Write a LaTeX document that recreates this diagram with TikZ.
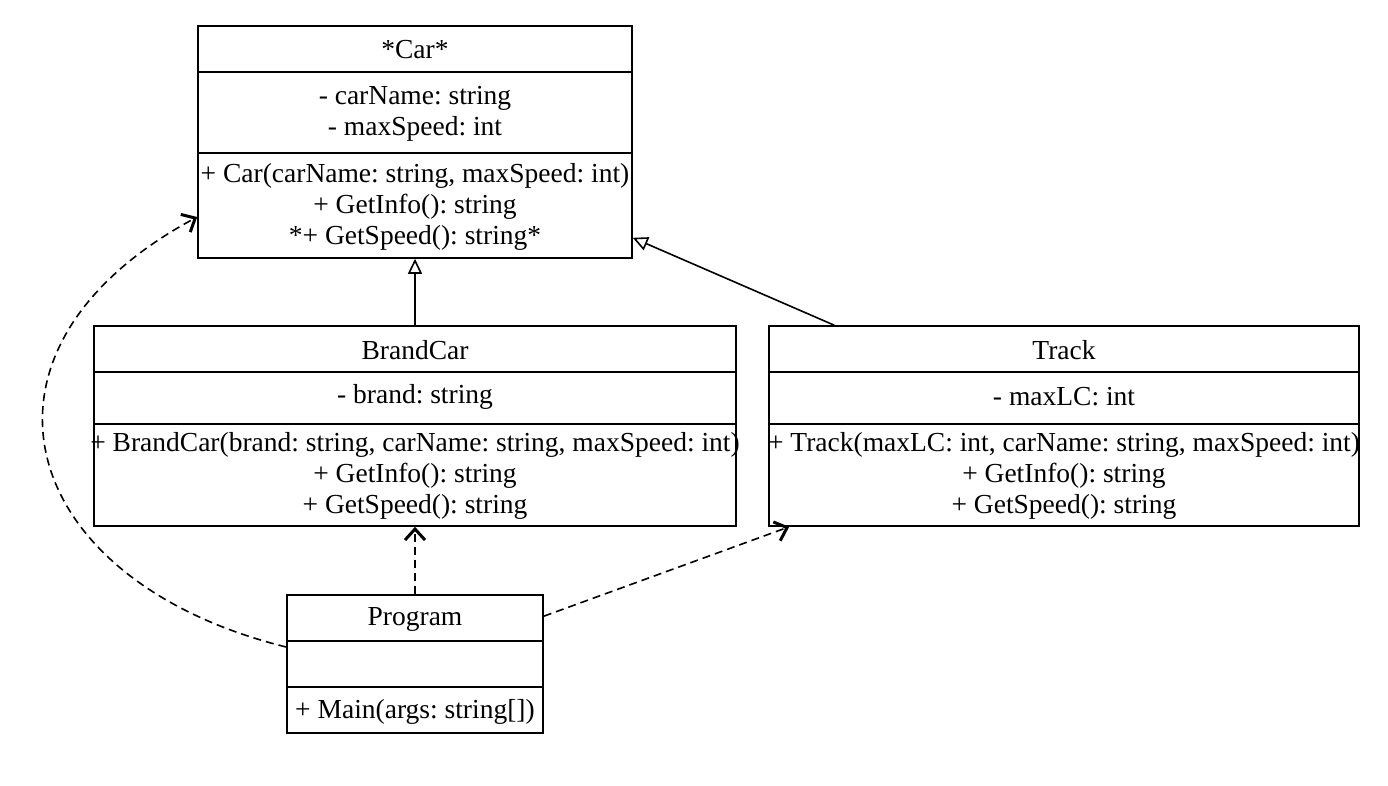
\documentclass[tikz,border=0pt]{standalone}
\usepackage{fontspec}
\setmainfont{Liberation Serif}
\usetikzlibrary{arrows.meta,calc}
\begin{document}
\frenchspacing
\begin{tikzpicture}[x=1pt,y=-1pt,
  box/.style={draw=black,line width=1.6pt,fill=white,inner sep=0pt},
  sep/.style={line width=1.6pt},
  txt/.style={align=center,inner sep=0pt,font=\frenchspacing\fontsize{27.5}{31}\selectfont},
  inherit/.style={line width=1.6pt,-{Triangle[open,length=15pt,width=14pt,fill=white]}},
  dep/.style={line width=1.6pt,dash pattern=on 8pt off 5pt,-{Straight Barb[length=11pt,width=20pt,line width=3pt]}}]
\useasboundingbox[fill=white] (0,0) rectangle (1388,786);
% Car
\node[box,minimum width=434pt,minimum height=232pt] (car) at (415,142) {};
\draw[sep] (198,72) -- (632,72);
\draw[sep] (198,153) -- (632,153);
\node[txt] (carT) at (415,50) {*Car*};
\node[txt] (carA) at (415,114) {- carName: string\\- maxSpeed: int};
\node[txt] (carM) at (415,207) {+ Car(carName: string, maxSpeed: int)\\+ GetInfo(): string\\*+ GetSpeed(): string*};
% BrandCar
\node[box,minimum width=642pt,minimum height=200pt] (brand) at (415,426) {};
\draw[sep] (94,372) -- (736,372);
\draw[sep] (94,424) -- (736,424);
\node[txt] (brandT) at (415,350) {BrandCar};
\node[txt] (brandA) at (415,397) {- brand: string};
\node[txt] (brandM) at (415,476) {+ BrandCar(brand: string, carName: string, maxSpeed: int)\\+ GetInfo(): string\\+ GetSpeed(): string};
% Track
\node[box,minimum width=590pt,minimum height=200pt] (track) at (1064,426) {};
\draw[sep] (769,372) -- (1359,372);
\draw[sep] (769,424) -- (1359,424);
\node[txt] (trackT) at (1064,350) {Track};
\node[txt] (trackA) at (1064,397) {- maxLC: int};
\node[txt] (trackM) at (1064,476) {+ Track(maxLC: int, carName: string, maxSpeed: int)\\+ GetInfo(): string\\+ GetSpeed(): string};
% Program
\node[box,minimum width=256pt,minimum height=138pt] (prog) at (415,664) {};
\draw[sep] (287,641) -- (543,641);
\draw[sep] (287,687) -- (543,687);
\node[txt] (progT) at (415,619) {Program};
\node[txt] (progM) at (415,712) {+ Main(args: string[])};
% connectors
\draw[inherit] (brand.north) -- (car.south);
\draw[inherit] ($(track.north west)+(66,0)$) -- ($(car.south east)+(0,-21)$);
\draw[dep] (prog.north) -- (brand.south);
\draw[dep] ($(prog.north east)+(0,22)$) -- ($(track.south west)+(21,0)$);
\draw[dep] ($(prog.west)+(0,-17)$) .. controls (15,580) and (-50,350) .. ($(car.west)+(0,75)$);
\end{tikzpicture}
\end{document}
